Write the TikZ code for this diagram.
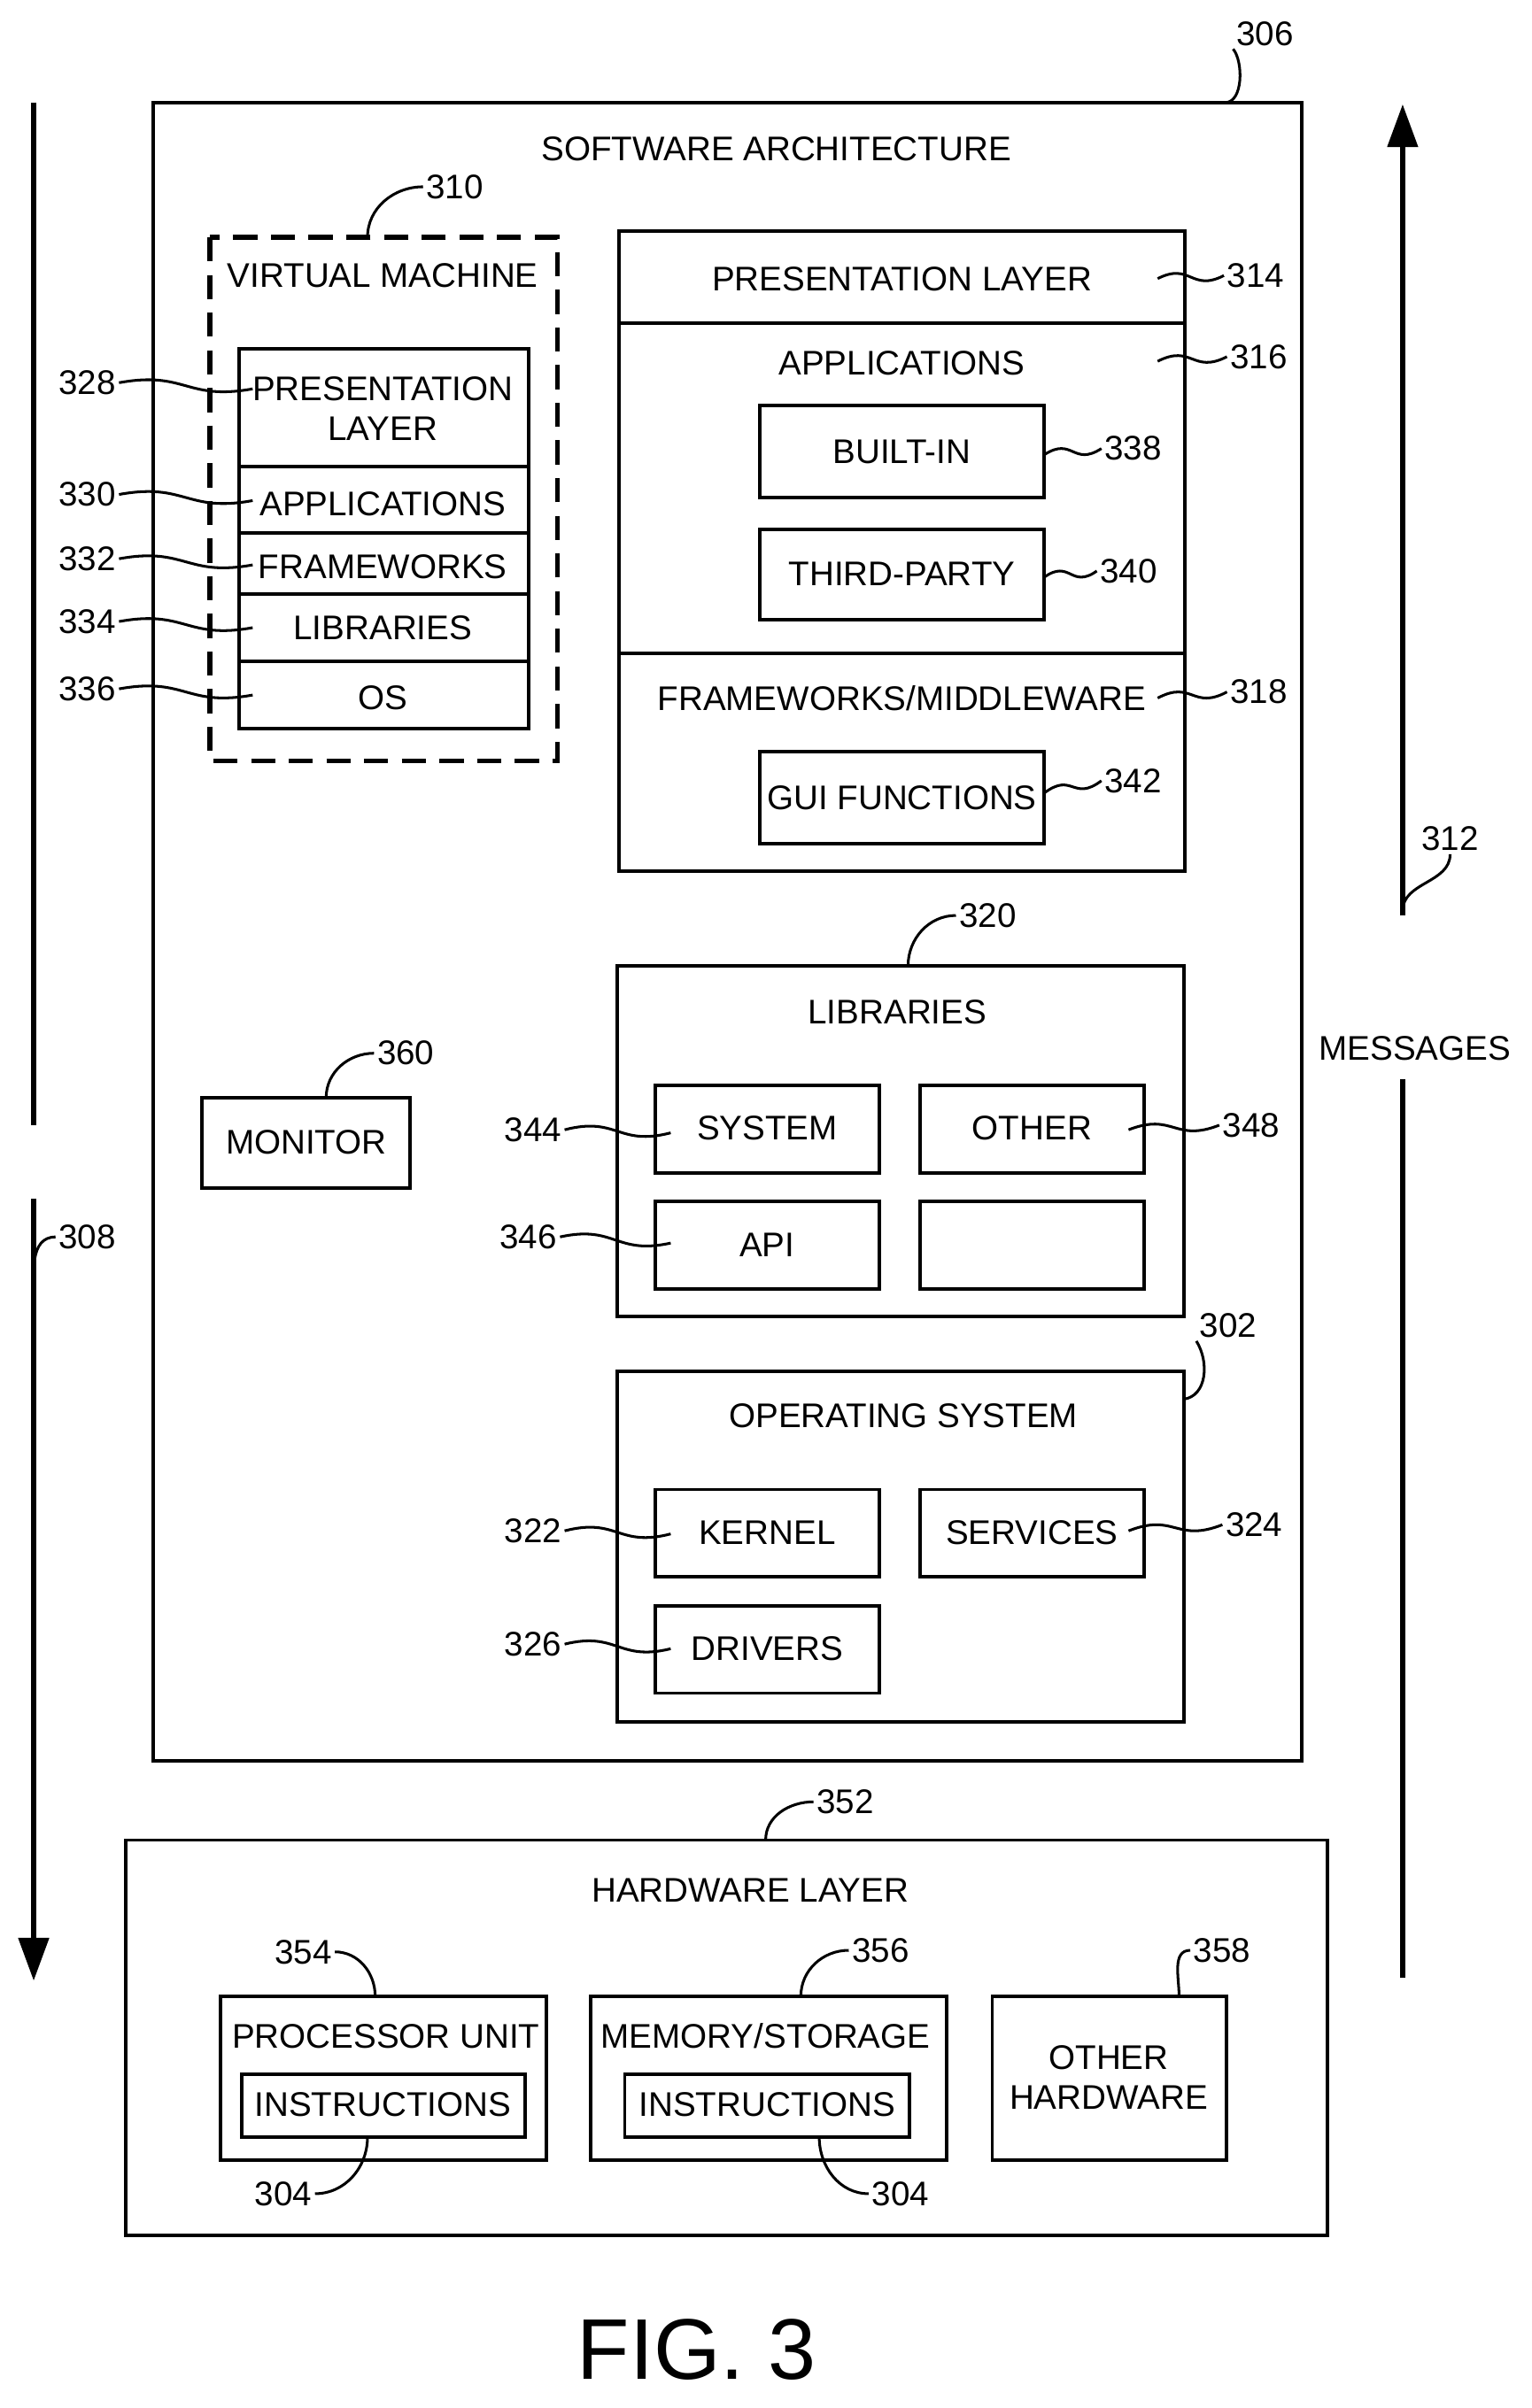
\documentclass[tikz,border=0pt]{standalone}
\usepackage{fontspec}
\setmainfont{Liberation Sans}
\usetikzlibrary{calc,arrows.meta}
\begin{document}
\begin{tikzpicture}[x=0.02cm,y=-0.02cm,
  bx/.style={draw,line width=1.3pt},
  t/.style={font=\fontsize{12.7}{15}\selectfont,inner sep=1pt,align=center},
  n/.style={font=\fontsize{12.7}{15}\selectfont,inner sep=1pt},
  ld/.style={line width=1pt}]
\newcommand{\lead}[2]{\draw[ld] (#1) .. controls ($(#1)!0.5!(#2)+(0,-10)$) and ($(#1)!0.5!(#2)+(0,10)$) .. (#2);}
\useasboundingbox (0,0) rectangle (1000,1573);
% outer
\draw[bx] (100,67) rectangle (850,1150);
\node[t] (swa) at (507,97) {SOFTWARE ARCHITECTURE};
\node[n] (n306) at (826,22) {306};
\coordinate (c306) at (800,67);
\draw[ld] (c306) .. controls (812,67) and (812,40) .. (n306.south west);
% VM
\draw[line width=1.8pt,dash pattern=on 9pt off 5pt] (137,155) rectangle (364,497);
\node[t] (vm) at (250,180) {VIRTUAL MACHINE};
\node[n] (n310) at (297,122) {310};
\coordinate (c310) at (240,155);
\draw[ld] (c310) to[out=90,in=180] (n310.west);
\draw[bx] (156,228) rectangle (345,305); \node[t] (vp) at (250,267) {PRESENTATION\\LAYER};
\draw[bx] (156,305) rectangle (345,348); \node[t] (va) at (250,329) {APPLICATIONS};
\draw[bx] (156,348) rectangle (345,388); \node[t] (vf) at (250,370) {FRAMEWORKS};
\draw[bx] (156,388) rectangle (345,432); \node[t] (vl) at (250,410) {LIBRARIES};
\draw[bx] (156,432) rectangle (345,476); \node[t] (vo) at (250,456) {OS};
\foreach \l/\y in {328/250,330/323,332/365,334/406,336/450}{
  \node[n] (n\l) at (57,\y) {\l};
  \coordinate (e\l) at (165,\y+4);
  \lead{n\l.east}{e\l}
}
% right stack
\draw[bx] (404,151) rectangle (774,211); \node[t] (rp) at (589,182) {PRESENTATION LAYER};
\draw[bx] (404,211) rectangle (774,427); \node[t] (ra) at (589,237) {APPLICATIONS};
\draw[bx] (404,427) rectangle (774,569); \node[t] (rf) at (589,456) {FRAMEWORKS/MIDDLEWARE};
\draw[bx] (496,265) rectangle (682,325); \node[t] (bit) at (589,295) {BUILT-IN};
\draw[bx] (496,346) rectangle (682,405); \node[t] (tp) at (589,375) {THIRD-PARTY};
\draw[bx] (496,491) rectangle (682,551); \node[t] (gui) at (589,521) {GUI FUNCTIONS};
\foreach \l/\x/\y/\ex/\ey in {314/820/180/756/182,316/822/233/756/236,338/740/293/682/297,340/737/373/682/377,318/822/452/756/456,342/740/510/682/518}{
  \node[n] (n\l) at (\x,\y) {\l};
  \coordinate (e\l) at (\ex,\ey);
  \lead{e\l}{n\l.west}
}
% libraries
\draw[bx] (403,631) rectangle (773,860); \node[t] (lib) at (586,661) {LIBRARIES};
\node[n] (n320) at (645,598) {320};
\coordinate (c320) at (593,631);
\draw[ld] (c320) to[out=90,in=180] (n320.west);
\draw[bx] (428,709) rectangle (574,766); \node[t] (sys) at (501,737) {SYSTEM};
\draw[bx] (601,709) rectangle (747,766); \node[t] (oth) at (674,737) {OTHER};
\draw[bx] (428,785) rectangle (574,842); \node[t] (api) at (501,813) {API};
\draw[bx] (601,785) rectangle (747,842);
% OS
\draw[bx] (403,896) rectangle (773,1125); \node[t] (os) at (590,925) {OPERATING SYSTEM};
\node[n] (n302) at (802,866) {302};
\coordinate (c302) at (773,914);
\draw[ld] (c302) .. controls (788,912) and (790,890) .. (n302.south west);
\draw[bx] (428,973) rectangle (574,1030); \node[t] (ker) at (501,1001) {KERNEL};
\draw[bx] (601,973) rectangle (747,1030); \node[t] (ser) at (674,1001) {SERVICES};
\draw[bx] (428,1049) rectangle (574,1106); \node[t] (drv) at (501,1077) {DRIVERS};
\foreach \l/\x/\y/\ex/\ey in {344/348/738/438/740,346/345/808/438/812,322/348/1000/438/1002,326/348/1074/438/1077}{
  \node[n] (n\l) at (\x,\y) {\l};
  \coordinate (e\l) at (\ex,\ey);
  \lead{n\l.east}{e\l}
}
\foreach \l/\x/\y/\ex/\ey in {348/817/735/737/738,324/819/996/737/1000}{
  \node[n] (n\l) at (\x,\y) {\l};
  \coordinate (e\l) at (\ex,\ey);
  \lead{e\l}{n\l.west}
}
% monitor
\draw[bx] (132,717) rectangle (268,776); \node[t] (mon) at (200,746) {MONITOR};
\node[n] (n360) at (265,688) {360};
\coordinate (c360) at (213,717);
\draw[ld] (c360) to[out=90,in=180] (n360.west);
% hardware
\draw[bx] (82,1202) rectangle (867,1460); \node[t] (hw) at (490,1235) {HARDWARE LAYER};
\node[n] (n352) at (552,1177) {352};
\coordinate (c352) at (500,1202);
\draw[ld] (c352) to[out=90,in=180] (n352.west);
\draw[bx] (144,1304) rectangle (357,1411); \node[t] (pu) at (252,1330) {PROCESSOR UNIT};
\draw[bx] (158,1355) rectangle (343,1396); \node[t] (i1) at (250,1375) {INSTRUCTIONS};
\draw[bx] (386,1304) rectangle (618,1411); \node[t] (ms) at (500,1330) {MEMORY/STORAGE};
\draw[bx] (408,1355) rectangle (594,1396); \node[t] (i2) at (501,1375) {INSTRUCTIONS};
\draw[bx] (648,1304) rectangle (801,1411); \node[t] (oh) at (724,1357) {OTHER\\HARDWARE};
\node[n] (n354) at (198,1275) {354};
\coordinate (c354) at (245,1304);
\draw[ld] (c354) to[out=90,in=0] (n354.east);
\node[n] (n356) at (575,1274) {356};
\coordinate (c356) at (523,1304);
\draw[ld] (c356) to[out=90,in=180] (n356.west);
\node[n] (n358) at (798,1274) {358};
\coordinate (c358) at (770,1304);
\draw[ld] (c358) to[out=90,in=180] (n358.west);
\node[n] (n304a) at (185,1433) {304};
\coordinate (c304a) at (240,1396);
\draw[ld] (c304a) to[out=-90,in=0] (n304a.east);
\node[n] (n304b) at (588,1433) {304};
\coordinate (c304b) at (535,1396);
\draw[ld] (c304b) to[out=-90,in=180] (n304b.west);
% arrows
\coordinate (l1) at (22,67); \coordinate (l2) at (22,735);
\coordinate (l3) at (22,783); \coordinate (l4) at (22,1294);
\draw[line width=2.2pt] (l1) -- (l2);
\draw[line width=2.2pt,-{Triangle[length=16pt,width=11pt]}] (l3) -- (l4);
\node[n] (n308) at (57,808) {308};
\coordinate (c308) at (22,850);
\draw[ld] (c308) to[out=90,in=180] (n308.west);
\coordinate (r1) at (916,1292); \coordinate (r2) at (916,705);
\coordinate (r3) at (916,598); \coordinate (r4) at (916,68);
\node[t] (msg) at (924,685) {MESSAGES};
\draw[line width=2.2pt] (r1) -- (r2);
\draw[line width=2.2pt,-{Triangle[length=16pt,width=11pt]}] (r3) -- (r4);
\node[n] (n312) at (947,548) {312};
\coordinate (c312) at (916,595);
\draw[ld] (c312) to[out=90,in=-90] (n312.south);
\node[font=\fontsize{32}{36}\selectfont] (fig) at (455,1535) {FIG. 3};
\end{tikzpicture}
\end{document}
